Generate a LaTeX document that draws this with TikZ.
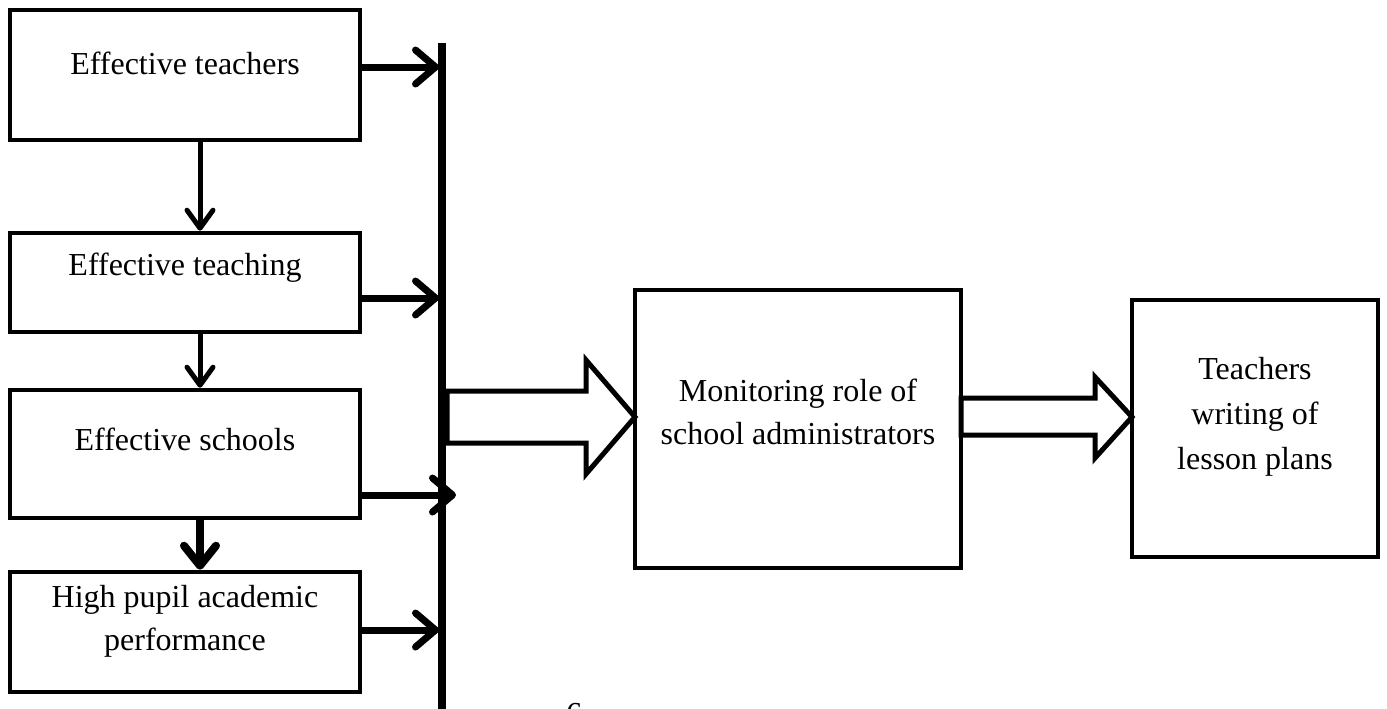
\documentclass[tikz,border=0pt]{standalone}
\usepackage{fontspec}
\setmainfont{Liberation Serif}
\usetikzlibrary{arrows.meta}
\begin{document}
\begin{tikzpicture}[x=0.5pt,y=-0.5pt,
  box/.style={draw,line width=2.3pt,rectangle,inner sep=0pt},
  txt/.style={font=\fontsize{16}{21.5}\selectfont,align=center,inner sep=0pt},
  rarrow/.style={line width=3.5pt,-{Straight Barb[round,length=10pt,width=17pt]}},
  darrow/.style={line width=2.5pt,-{Straight Barb[round,length=9pt,width=13pt]}},
  dthick/.style={line width=4pt,-{Straight Barb[round,length=10pt,width=16pt]}},
  hollow/.style={draw,fill=white,line width=2.5pt,miter limit=10},
  bar/.style={line width=3.6pt}]
\clip (0,0) rectangle (1387,708);
\fill[white] (0,0) rectangle (1387,708);
% hollow arrows
\draw[hollow] (447,391) -- (586,391) -- (586,360) -- (635,417) -- (586,474) -- (586,443) -- (447,443) -- cycle;
\draw[hollow] (961,398) -- (1095,398) -- (1095,377) -- (1132,417) -- (1095,458) -- (1095,435) -- (961,435) -- cycle;
% boxes
\node[box,minimum width=175pt,minimum height=65pt] (b1) at (185,75) {};
\node[box,minimum width=175pt,minimum height=49.5pt] (b2) at (185,282.5) {};
\node[box,minimum width=175pt,minimum height=64pt] (b3) at (185,454) {};
\node[box,minimum width=175pt,minimum height=60pt] (b4) at (185,632) {};
\node[box,minimum width=163pt,minimum height=139pt] (m) at (798,429) {};
\node[box,minimum width=123pt,minimum height=128.5pt] (t) at (1255,428.5) {};
% texts
\node[txt] (l1) at (185,63) {Effective teachers};
\node[txt] (l2) at (185,268) {Effective teaching};
\node[txt] (l3) at (185,439) {Effective schools};
\node[txt] (l4) at (185,621) {High pupil academic\\performance};
\node[txt] (lm) at (798,412) {Monitoring role of\\school administrators};
\node[txt,font=\fontsize{16}{22.5}\selectfont] (lt) at (1255,417) {Teachers\\writing of\\lesson plans};
\node[txt] (pg) at (574,714) {6};
% bar
\coordinate (bt) at (442,43);
\coordinate (bb) at (442,720);
\draw[bar] (bt) -- (bb);
% right arrows
\coordinate (r1) at (439,67);
\coordinate (r2) at (439,298);
\coordinate (r3) at (456,495);
\coordinate (r4) at (439,630);
\draw[rarrow] (b1.east |- r1) -- (r1);
\draw[rarrow] (b2.east |- r2) -- (r2);
\draw[rarrow] (b3.east |- r3) -- (r3);
\draw[rarrow] (b4.east |- r4) -- (r4);
% down arrows
\coordinate (dx) at (200,0);
\draw[darrow] (b1.south -| dx) -- (b2.north -| dx);
\draw[darrow] (b2.south -| dx) -- (b3.north -| dx);
\draw[dthick] (b3.south -| dx) -- (b4.north -| dx);
\end{tikzpicture}
\end{document}
